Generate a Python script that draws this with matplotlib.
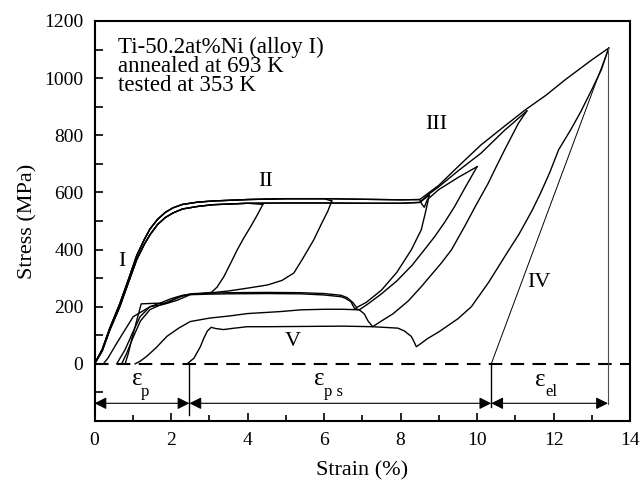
import matplotlib
matplotlib.use("Agg")
import matplotlib.pyplot as plt

plt.rcParams['font.family'] = ['Liberation Serif', 'DejaVu Serif']

# loading envelope, lower and upper variants
env_x = [0, 0.2, 0.4, 0.66, 0.9, 1.1, 1.3, 1.45, 1.65, 1.85, 2.05, 2.3, 2.7, 3.1, 4.0, 5.0, 6.0, 7.0, 8.0, 8.5]
env_lo = [0, 45, 119, 200, 290, 364, 418, 452, 488, 512, 528, 542, 551, 557, 562, 563, 563, 562, 562, 565]
env_hi = [0, 50, 125, 210, 300, 378, 435, 472, 506, 530, 546, 558, 566, 570, 575, 578, 578, 576, 574, 575]

# stage III loading branches
l3_x = [8.6, 8.75]
l3_y = [575, 590]
l4_x = [8.55, 8.62, 8.7, 9.0, 9.5, 10.0]
l4_y = [560, 548, 575, 610, 652, 690]
l5_x = [8.7, 9.0, 9.5, 10.1, 10.7, 11.3]
l5_y = [590, 620, 675, 737, 815, 885]
l6_x = [8.6, 9.0, 9.5, 10.1, 10.7, 11.25, 11.8, 12.3, 13.0, 13.44]
l6_y = [585, 625, 690, 766, 830, 888, 940, 994, 1064, 1105]

# unloading curves
u1_x = [4.40, 4.25, 4.08, 3.90, 3.73, 3.55, 3.38, 3.20, 3.05, 2.80, 2.50, 2.25, 2.00, 1.89, 1.60, 1.22, 1.12, 0.98, 0.88, 0.80]
u1_y = [558, 520, 480, 440, 399, 350, 305, 268, 250, 246, 244, 236, 220, 212, 212, 210, 160, 90, 35, 0]
u2_x = [6.20, 6.10, 5.95, 5.73, 5.45, 5.21, 4.90, 4.52, 4.00, 3.50, 3.00, 2.60, 2.30, 2.00, 1.70, 1.45, 1.20, 1.00, 0.85, 0.71]
u2_y = [570, 535, 495, 434, 370, 318, 292, 276, 265, 255, 248, 245, 238, 222, 205, 190, 150, 90, 40, 0]
u3_x = [8.75, 8.65, 8.54, 8.28, 7.90, 7.50, 7.10, 6.85, 6.75, 6.60, 6.44, 6.00, 5.40, 4.50, 3.50, 3.00,
        2.60, 2.30, 2.00, 1.70, 1.45, 1.19, 1.00, 0.80, 0.58]
u3_y = [590, 530, 469, 399, 320, 258, 215, 197, 215, 232, 240, 246, 249, 250, 249, 247,
        246, 240, 228, 212, 200, 165, 110, 50, 0]
u4_x = [10.0, 9.70, 9.41, 9.15, 8.89, 8.62, 8.30, 7.90, 7.50, 7.15, 6.92, 6.79, 6.70, 6.55, 6.44, 6.00,
        5.40, 4.50, 3.50, 3.00, 2.50, 2.15, 1.80, 1.45, 1.01, 0.58, 0.35, 0.23]
u4_y = [690, 620, 550, 495, 445, 399, 345, 290, 245, 210, 189, 195, 218, 230, 235, 241,
        245, 246, 245, 244, 242, 222, 208, 200, 165, 72, 20, 0]
u5_x = [11.30, 11.08, 10.72, 10.46, 10.29, 9.95, 9.67, 9.33, 9.06, 8.54, 8.20, 7.80, 7.50, 7.27, 7.15, 7.05,
        6.92, 6.50, 6.00, 5.39, 4.86, 4.00, 3.55, 3.00, 2.50, 2.20, 1.89, 1.60, 1.36, 1.20, 1.06]
u5_y = [885, 842, 749, 679, 632, 550, 480, 399, 352, 270, 220, 175, 150, 130, 150, 175,
        189, 191, 191, 189, 183, 176, 168, 160, 148, 125, 96, 55, 26, 10, 0]
u6_x = [13.44, 13.25, 13.00, 12.70, 12.45, 12.13, 11.90, 11.65, 11.43, 11.10, 10.72, 10.30, 9.85, 9.50,
        9.00, 8.70, 8.54, 8.41, 8.35, 8.28, 8.10, 7.93, 7.27, 6.50, 5.50, 4.50, 3.99, 3.60, 3.37, 3.15,
        3.05, 2.95, 2.85, 2.77, 2.60, 2.42]
u6_y = [1105, 1030, 960, 880, 820, 749, 670, 595, 535, 455, 375, 285, 200, 158,
        112, 88, 72, 60, 78, 96, 115, 125, 130, 132, 131, 130, 130, 124, 120, 124,
        128, 115, 88, 61, 20, 0]

# elastic line IV and strain markers
el_x = [10.37, 13.44]
el_y = [0, 1105]
eps_p = [0, 2.48]
eps_ps = [2.48, 10.37]
eps_el = [10.37, 13.42]


def up_to(xs, ys, xmax):
    px = [x for x in xs if x <= xmax]
    return px, ys[:len(px)]


fig = plt.figure(figsize=(6.43, 4.87), dpi=100)
ax = fig.add_axes([0.147, 0.1355, 0.833, 0.8215])

lw = 1.0
# loading curves
x, y = up_to(env_x, env_lo, 4.4)
ax.plot(x + [4.4], y + [558], 'k', lw=lw)
x, y = up_to(env_x, env_hi, 6.2)
ax.plot(x + [6.2], y + [570], 'k', lw=lw)
ax.plot(env_x + l3_x, env_lo + l3_y, 'k', lw=lw)
ax.plot(env_x + l4_x, env_hi + l4_y, 'k', lw=lw)
ax.plot(env_x + l5_x, env_lo + l5_y, 'k', lw=lw)
ax.plot(env_x + l6_x, env_hi + l6_y, 'k', lw=lw)

# unloading curves
for ux, uy in [(u1_x, u1_y), (u2_x, u2_y), (u3_x, u3_y), (u4_x, u4_y), (u5_x, u5_y), (u6_x, u6_y)]:
    ax.plot(ux, uy, 'k', lw=lw)

ax.plot(el_x, el_y, 'k', lw=0.7)
ax.plot([0, 14], [0, 0], 'k', lw=1.5, dashes=(6.5, 4))

# vertical markers
ax.plot([eps_p[1], eps_p[1]], [0, -180], 'k', lw=1.0)
ax.plot([eps_ps[1], eps_ps[1]], [0, -150], 'k', lw=1.0)
ax.plot([eps_el[1], eps_el[1]], [1105, -140], color='0.3', lw=0.8)

for a, b in [eps_p, eps_ps, eps_el]:
    ax.annotate('', xy=(a, -138), xytext=(b, -138),
                arrowprops=dict(arrowstyle='<|-|>', color='black', lw=0.8,
                                mutation_scale=18, shrinkA=0, shrinkB=0))

fs = 14
big = 16.5
ax.text(1.12, -52, 'ε', fontsize=18, ha='center', va='center')
ax.text(1.32, -97, 'p', fontsize=12, ha='center', va='center')
ax.text(5.87, -52, 'ε', fontsize=18, ha='center', va='center')
ax.text(6.24, -97, 'p s', fontsize=12, ha='center', va='center')
ax.text(11.64, -55, 'ε', fontsize=18, ha='center', va='center')
ax.text(11.94, -97, 'el', fontsize=12, ha='center', va='center')

ax.text(0.72, 357, 'I', fontsize=16, ha='center', va='center')
ax.text(4.47, 637, 'II', fontsize=16, ha='center', va='center')
ax.text(8.93, 836, 'III', fontsize=16, ha='center', va='center')
ax.text(11.61, 283, 'IV', fontsize=16, ha='center', va='center')
ax.text(5.17, 78, 'V', fontsize=16, ha='center', va='center')

ax.text(0.62, 1109, 'Ti-50.2at%Ni (alloy I)', fontsize=big, va='center')
ax.text(0.62, 1041, 'annealed at 693 K', fontsize=big, va='center')
ax.text(0.62, 973, 'tested at 353 K', fontsize=big, va='center')

ax.set_xlim(0, 14)
ax.set_ylim(-200, 1200)
ax.set_xticks(range(0, 15, 2))
ax.set_xticks(range(1, 14, 2), minor=True)
ax.set_yticks(range(0, 1201, 200))
ax.set_yticks([-100, 100, 300, 500, 700, 900, 1100], minor=True)
ax.tick_params(direction='in', labelsize=fs, width=1.2, length=6, pad=8)
ax.tick_params(which='minor', direction='in', width=1.2, length=4)
ax.tick_params(axis='y', which='minor', length=6)
for s in ax.spines.values():
    s.set_linewidth(1.5)

ax.set_xlabel('Strain (%)', fontsize=16, labelpad=9)
ax.set_ylabel('Stress (MPa)', fontsize=16, labelpad=5)

fig.savefig('out.png', dpi=100)
